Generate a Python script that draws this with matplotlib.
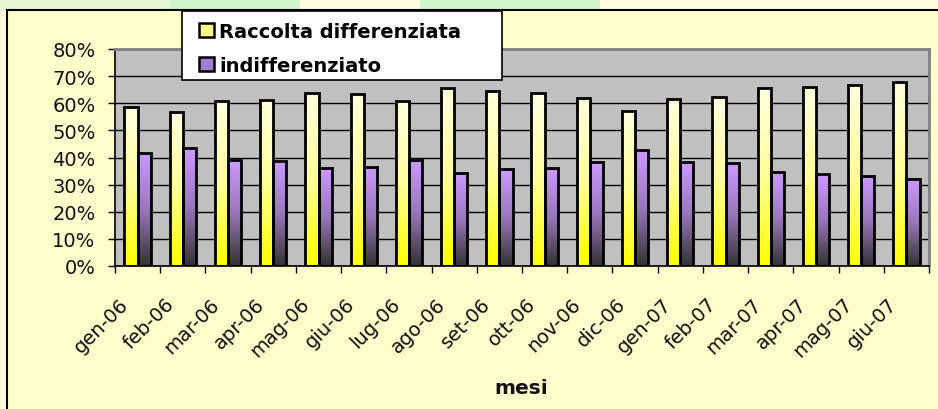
import numpy as np
import matplotlib
matplotlib.use("Agg")
import matplotlib.pyplot as plt
from matplotlib.colors import LinearSegmentedColormap
from matplotlib.patches import Rectangle, Patch
from matplotlib.ticker import FuncFormatter, FixedLocator
import matplotlib.transforms as mtransforms

# data
MONTHS = ["gen-06", "feb-06", "mar-06", "apr-06", "mag-06", "giu-06",
          "lug-06", "ago-06", "set-06", "ott-06", "nov-06", "dic-06",
          "gen-07", "feb-07", "mar-07", "apr-07", "mag-07", "giu-07"]
DIFFERENZIATA = [58.5, 56.6, 60.8, 61.3, 63.8, 63.4, 60.9, 65.8, 64.4,
                 63.7, 61.8, 57.3, 61.5, 62.2, 65.5, 66.1, 66.7, 67.9]
INDIFFERENZIATO = [41.5, 43.4, 39.2, 38.7, 36.2, 36.6, 39.1, 34.2, 35.6,
                   36.3, 38.2, 42.7, 38.5, 37.8, 34.5, 33.9, 33.3, 32.1]
LABELS = ["Raccolta differenziata", "indifferenziato"]

W, H = 938, 410
BAR_W = 0.29

YELLOW_CMAP = LinearSegmentedColormap.from_list(
    "yel", ["#ffff00", "#ffff99", "#ffffe0"])
PURPLE_CMAP = LinearSegmentedColormap.from_list(
    "pur", ["#333333", "#9977bb", "#cc99ff"])


def fx(px):
    return px / W


def fy(py):
    return 1 - py / H


def gradient_bars(ax, xs, values, cmap):
    """ draw vertical gradient bars with black outline """
    grad = np.linspace(0, 1, 64).reshape(-1, 1)
    for x, v in zip(xs, values):
        ax.imshow(grad, extent=(x - BAR_W / 2, x + BAR_W / 2, 0, v),
                  origin="lower", aspect="auto", cmap=cmap,
                  zorder=2, interpolation="bilinear")
    ax.bar(xs, values, BAR_W, fill=False, edgecolor="black",
           linewidth=2, zorder=3)


fig = plt.figure(figsize=(W / 100, H / 100), dpi=100)
fig.patch.set_facecolor("#fdfde0")

# decorative page background behind the chart
for x0, x1, col in [(0, 170, "#e4f6d4"), (170, 300, "#d2f5cc"),
                    (420, 600, "#d2f5cc")]:
    fig.patches.append(Rectangle((fx(x0), fy(12)), fx(x1 - x0), 12 / H,
                                 transform=fig.transFigure,
                                 facecolor=col, edgecolor="none", zorder=0))

# chart area
fig.patches.append(Rectangle((fx(7), -0.05), 1.05, fy(11) + 0.05,
                             transform=fig.transFigure,
                             facecolor="#ffffcc", edgecolor="black",
                             linewidth=1.5, zorder=1))

ax = fig.add_axes([fx(115), fy(267), fx(929 - 115), (267 - 50) / H])
ax.set_zorder(3)
ax.set_facecolor("#c0c0c0")

x = np.arange(len(MONTHS))
gradient_bars(ax, x - 0.145, DIFFERENZIATA, YELLOW_CMAP)
gradient_bars(ax, x + 0.145, INDIFFERENZIATO, PURPLE_CMAP)

ax.set_xlim(-0.5, len(MONTHS) - 0.5)
ax.set_ylim(0, 80)
ax.set_yticks(np.arange(0, 81, 10))
ax.yaxis.set_major_formatter(FuncFormatter(lambda v, p: "%d%%" % v))
ax.grid(axis="y", color="black", linewidth=1, zorder=1)
ax.set_axisbelow(True)

ax.set_xticks(x)
ax.set_xticklabels(MONTHS, rotation=45, ha="right", va="center",
                   rotation_mode="anchor", fontsize=14, color="#111111")
ax.xaxis.set_minor_locator(FixedLocator(np.arange(-0.5, len(MONTHS), 1)))
ax.tick_params(axis="x", which="major", length=0, pad=25)
ax.tick_params(axis="x", which="minor", length=5, width=1, color="black")
ax.tick_params(axis="y", length=5, width=1, pad=9, labelsize=14,
               labelcolor="#111111")
offset = mtransforms.ScaledTranslation(-12 / 100, 0, fig.dpi_scale_trans)
for lab in ax.get_xticklabels():
    lab.set_transform(lab.get_transform() + offset)

for side in ["left", "bottom"]:
    ax.spines[side].set_color("black")
    ax.spines[side].set_linewidth(1.2)
for side in ["top", "right"]:
    ax.spines[side].set_color("#808080")
    ax.spines[side].set_linewidth(2)

fig.text(fx(521), fy(389), "mesi", ha="center", va="center",
         fontsize=14.5, fontweight="bold", color="#111111")

# legend box drawn separately so its padding can match the original
ax_leg = fig.add_axes([0, 0, 1, 1], facecolor="none")
ax_leg.set_zorder(5)
ax_leg.axis("off")
ax_leg.add_patch(Rectangle((fx(182), fy(81)), fx(502 - 182), (81 - 12) / H,
                           transform=fig.transFigure, facecolor="white",
                           edgecolor="black", linewidth=1.2))

handles = [Patch(facecolor="#ffff88", edgecolor="black", linewidth=1.8),
           Patch(facecolor="#a07fd0", edgecolor="black", linewidth=1.8)]
leg = ax_leg.legend(handles, LABELS, loc="upper left",
                    bbox_to_anchor=(fx(199), fy(23)),
                    bbox_transform=fig.transFigure,
                    prop={"weight": "bold", "size": 14},
                    frameon=False, borderpad=0, labelspacing=0.75,
                    handlelength=0.75, handleheight=0.7, handletextpad=0.3,
                    borderaxespad=0)

fig.savefig("out.png", dpi=100, facecolor=fig.get_facecolor())
